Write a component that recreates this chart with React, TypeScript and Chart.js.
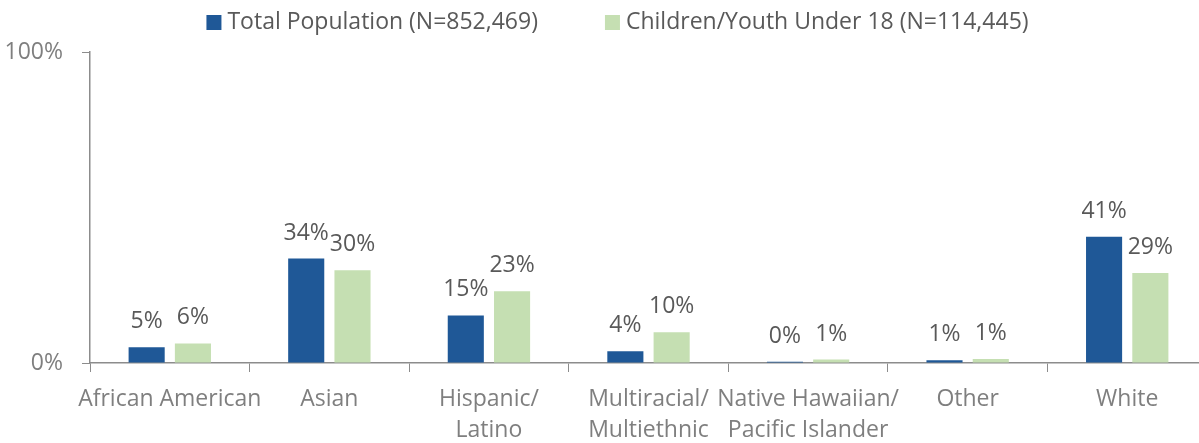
import React, { useEffect, useRef } from "react";
import { Chart, registerables } from "chart.js";

Chart.register(...registerables);

const categories: (string | string[])[] = [
  "African American",
  "Asian",
  ["Hispanic/", "Latino"],
  ["Multiracial/", "Multiethnic"],
  ["Native Hawaiian/", "Pacific Islander"],
  "Other",
  "White",
];
const totalPopulation = [5.1, 33.6, 15.3, 3.8, 0.4, 0.9, 40.6];
const childrenYouth = [6.3, 29.8, 23.1, 9.9, 1.1, 1.3, 28.9];
const totalLabels = ["5%", "34%", "15%", "4%", "0%", "1%", "41%"];
const childLabels = ["6%", "30%", "23%", "10%", "1%", "1%", "29%"];
const seriesNames = ["Total Population (N=852,469)", "Children/Youth Under 18 (N=114,445)"];
const yTicks = [0, 100];

const BLUE = "#1f5897";
const GREEN = "#c5dfb2";
const FONT = "'Open Sans'";
const AXIS = "#8c8c8c";
const FS = 23;

const valueLabels = {
  id: "valueLabels",
  afterDatasetsDraw(chart: any) {
    const ctx = chart.ctx;
    const lbls = [totalLabels, childLabels];
    ctx.save();
    ctx.font = `${FS}px ${FONT}`;
    ctx.fillStyle = "#595959";
    ctx.textAlign = "center";
    ctx.textBaseline = "alphabetic";
    chart.data.datasets.forEach((_: any, di: number) => {
      const meta = chart.getDatasetMeta(di);
      meta.data.forEach((bar: any, i: number) => {
        ctx.fillText(lbls[di][i], bar.x, bar.y - 19);
      });
    });
    ctx.restore();
  },
};

const topLegend = {
  id: "topLegend",
  afterDraw(chart: any) {
    const ctx = chart.ctx;
    ctx.save();
    ctx.font = `${FS}px ${FONT}`;
    ctx.textBaseline = "alphabetic";
    ctx.textAlign = "left";
    const box = 15;
    const boxGap = 6;
    const itemGap = 67;
    const widths = chart.data.datasets.map(
      (d: any) => box + boxGap + ctx.measureText(d.label).width
    );
    const total = widths.reduce((a: number, b: number) => a + b, 0) + itemGap * (widths.length - 1);
    let x = 617.5 - total / 2;
    chart.data.datasets.forEach((d: any, i: number) => {
      ctx.fillStyle = d.backgroundColor;
      ctx.fillRect(x, 15, box, box);
      ctx.fillStyle = "#595959";
      ctx.fillText(d.label, x + box + boxGap, 29);
      x += widths[i] + itemGap;
    });
    ctx.restore();
  },
};

export default function App() {
  const ref = useRef<HTMLCanvasElement | null>(null);
  useEffect(() => {
    if (!ref.current) return;
    const chart = new Chart(ref.current, {
      type: "bar",
      data: {
        labels: categories,
        datasets: [
          {
            label: seriesNames[0],
            data: totalPopulation,
            backgroundColor: BLUE,
            categoryPercentage: 0.58,
            barPercentage: 0.78,
          },
          {
            label: seriesNames[1],
            data: childrenYouth,
            backgroundColor: GREEN,
            categoryPercentage: 0.58,
            barPercentage: 0.78,
          },
        ],
      },
      options: {
        responsive: false,
        animation: false,
        layout: { padding: { top: 52, left: 0, right: 0, bottom: 0 } },
        plugins: {
          legend: { display: false },
          tooltip: { enabled: false },
        },
        scales: {
          x: {
            grid: {
              offset: true,
              drawOnChartArea: false,
              drawTicks: true,
              tickLength: 9,
              color: AXIS,
            },
            border: { display: true, color: AXIS, width: 1.5 },
            ticks: {
              font: { family: FONT, size: FS, lineHeight: 1.35 },
              color: "#7f7f7f",
              padding: 12,
              maxRotation: 0,
              autoSkip: false,
            },
            afterFit: (s: any) => {
              s.height = 80;
            },
          },
          y: {
            min: 0,
            max: 100,
            afterBuildTicks: (s: any) => {
              s.ticks = yTicks.map((v) => ({ value: v }));
            },
            grid: {
              drawOnChartArea: false,
              drawTicks: true,
              tickLength: 8,
              color: AXIS,
            },
            border: { display: true, color: AXIS, width: 1.5 },
            ticks: {
              font: { family: FONT, size: FS },
              color: "#7f7f7f",
              padding: 19,
              callback: (v: any) => v + "%",
            },
            afterFit: (s: any) => {
              s.width = 90;
            },
          },
        },
      },
      plugins: [valueLabels, topLegend],
    });
    return () => chart.destroy();
  }, []);
  return (
    <div style={{ position: "fixed", left: 0, top: 0, width: 1199, height: 443, overflow: "hidden", background: "#fff" }}>
      <canvas ref={ref} width={1207} height={443} style={{ display: "block" }} />
    </div>
  );
}
